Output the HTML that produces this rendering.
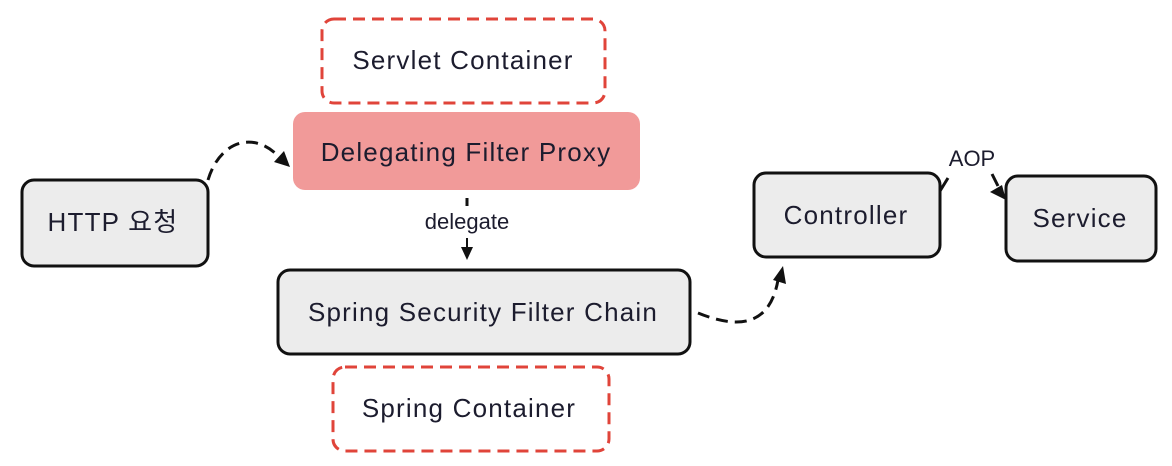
<!DOCTYPE html>
<html><head><meta charset="utf-8"><style>
html,body{margin:0;padding:0;background:#fff;}
svg{display:block;}
text{font-family:"Liberation Sans","Noto Sans CJK KR",sans-serif;fill:#1c1c2e;}
.t{font-size:26px;letter-spacing:1.2px;}
</style></head><body>
<svg width="1172" height="466" viewBox="0 0 1172 466" xmlns="http://www.w3.org/2000/svg">
<rect x="322" y="19" width="283" height="84" rx="12" fill="#fff" stroke="#e0443a" stroke-width="3" stroke-dasharray="12,7"/>
<text class="t" x="463" y="69" text-anchor="middle">Servlet Container</text>
<rect x="293" y="112" width="347" height="78" rx="12" fill="#f19a99"/>
<text class="t" x="466" y="161" text-anchor="middle">Delegating Filter Proxy</text>
<rect x="22" y="180" width="186" height="86" rx="12" fill="#ececec" stroke="#111" stroke-width="3"/>
<text class="t" x="113" y="231" text-anchor="middle">HTTP 요청</text>
<rect x="278" y="270" width="412" height="84" rx="12" fill="#ececec" stroke="#111" stroke-width="3"/>
<text class="t" x="483" y="321" text-anchor="middle">Spring Security Filter Chain</text>
<rect x="333" y="367" width="276" height="84" rx="12" fill="#fff" stroke="#e0443a" stroke-width="3" stroke-dasharray="12,7"/>
<text class="t" x="469" y="417" text-anchor="middle">Spring Container</text>
<rect x="754" y="173" width="186" height="84" rx="12" fill="#ececec" stroke="#111" stroke-width="3"/>
<text class="t" x="846" y="224" text-anchor="middle">Controller</text>
<rect x="1006" y="176" width="150" height="85" rx="12" fill="#ececec" stroke="#111" stroke-width="3"/>
<text class="t" x="1080" y="227" text-anchor="middle">Service</text>
<path d="M208,180 C220,140 255,130 280,158" fill="none" stroke="#111" stroke-width="3" stroke-dasharray="12,7"/>
<polygon points="290,167 274,162 284,151" fill="#111"/>
<path d="M467,198 L467,206" stroke="#111" stroke-width="3"/>
<text x="467" y="229" font-size="22" text-anchor="middle" fill="#333">delegate</text>
<path d="M467,238 L467,250" stroke="#111" stroke-width="2"/>
<polygon points="461,247 473,247 467,260" fill="#111"/>
<path d="M698,313 C740,330 770,325 778,280" fill="none" stroke="#111" stroke-width="3" stroke-dasharray="12,7"/>
<polygon points="783,266 786,284 773,280" fill="#111"/>
<path d="M940,191 L948,178" stroke="#111" stroke-width="3"/>
<text x="972" y="166" font-size="22" text-anchor="middle" fill="#333">AOP</text>
<path d="M992,174 L998,186" stroke="#111" stroke-width="3"/>
<polygon points="1006,200 990,192 1002,185" fill="#111"/>
</svg>
</body></html>
